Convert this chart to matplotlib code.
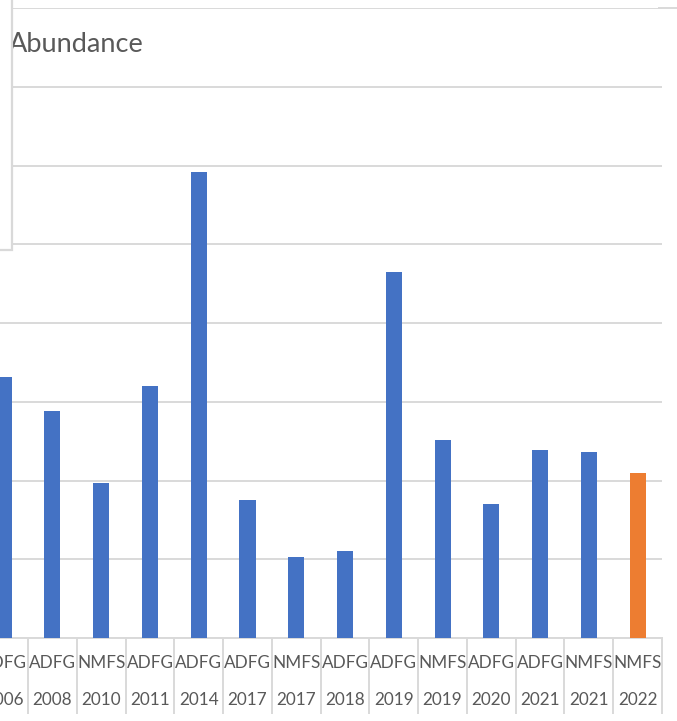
import matplotlib
matplotlib.use("Agg")
import matplotlib.pyplot as plt
from matplotlib.patches import Rectangle
from matplotlib.lines import Line2D
from matplotlib.transforms import blended_transform_factory

# Survey abundance estimates by agency and year
agencies = ["ADFG", "ADFG", "NMFS", "ADFG", "ADFG", "ADFG", "NMFS",
            "ADFG", "ADFG", "NMFS", "ADFG", "ADFG", "NMFS", "NMFS"]
years = ["2006", "2008", "2010", "2011", "2014", "2017", "2017",
         "2018", "2019", "2019", "2020", "2021", "2021", "2022"]
abundance = [3.31, 2.88, 1.97, 3.20, 5.92, 1.75, 1.03,
             1.10, 4.65, 2.51, 1.70, 2.39, 2.36, 2.09]
bar_colors = ["#4472C4"] * 13 + ["#ED7D31"]

W, H = 677, 721
fig = plt.figure(figsize=(W / 100, H / 100), dpi=100)
fig.patch.set_facecolor("white")

font = ["Lato", "DejaVu Sans"]
text_color = "#595959"
grid_color = "#D9D9D9"

# Plot area: the value axis lies to the left, outside the visible frame
left_px, right_px, base_px, top_px = -20.7, 662, 638, 8
ax = fig.add_axes([left_px / W, (H - base_px) / H,
                   (right_px - left_px) / W, (base_px - top_px) / H])
x = list(range(len(years)))
ax.bar(x, abundance, width=0.33, color=bar_colors, zorder=3)
ax.set_xlim(-0.5, len(years) - 0.5)
ax.set_ylim(0, 8)
ax.set_yticks(range(0, 9))
ax.yaxis.grid(True, color=grid_color, linewidth=1.4, zorder=0)
ax.set_axisbelow(True)
ax.tick_params(left=False, labelleft=False, bottom=False, labelbottom=False)
for side in ["left", "right", "top"]:
    ax.spines[side].set_visible(False)
ax.spines["bottom"].set_color(grid_color)
ax.spines["bottom"].set_linewidth(1.4)

# Two-level category labels with separators
tr = blended_transform_factory(ax.transData, fig.transFigure)
for i, (ag, yr) in enumerate(zip(agencies, years)):
    ax.text(i, (H - 663) / H, ag, transform=tr, ha="center", va="center",
            fontsize=12.3, color=text_color, family=font, clip_on=False)
    ax.text(i, (H - 700) / H, yr, transform=tr, ha="center", va="center",
            fontsize=12.3, color=text_color, family=font, clip_on=False)
for i in range(-1, len(years)):
    fig.add_artist(Line2D([i + 0.5, i + 0.5], [(H - base_px) / H, (H - 713) / H],
                          transform=tr, color=grid_color, linewidth=1.4))

# Top rule continues to the right edge
fig.add_artist(Line2D([(right_px - 3) / W, 1.0], [(H - top_px) / H] * 2,
                      transform=fig.transFigure, color=grid_color, linewidth=1.4))

# Title
fig.text(9 / W, (H - 45) / H, "Abundance", ha="left", va="center",
         fontsize=19.5, color=text_color, family=font)

# Panel box in the upper left corner
fig.add_artist(Rectangle((-10 / W, (H - 250) / H), 21.5 / W, 260 / H,
                         transform=fig.transFigure, facecolor="white",
                         edgecolor=grid_color, linewidth=1.6, zorder=10))

fig.savefig("out.png", dpi=100)
